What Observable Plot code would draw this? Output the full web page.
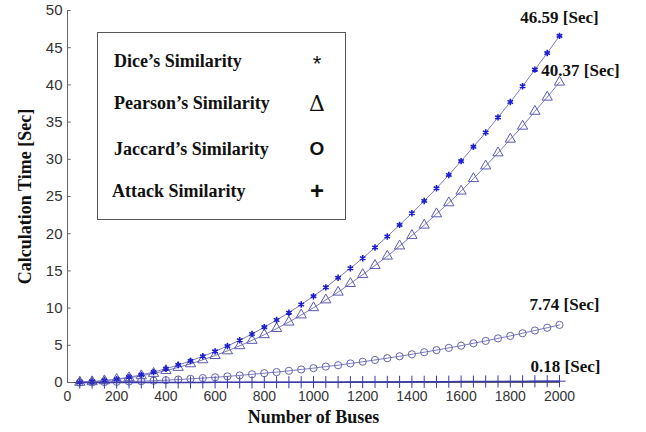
<!DOCTYPE html>
<html>
<head>
<meta charset="utf-8">
<script src="https://cdn.jsdelivr.net/npm/d3@7"></script>
<script src="https://cdn.jsdelivr.net/npm/@observablehq/plot@0.6"></script>
<style>
  html, body { margin: 0; padding: 0; background: #fff; }
  #wrap { position: relative; width: 646px; height: 432px; }
  #legend { position: absolute; left: 97px; top: 32px; width: 247px; height: 186px;
    border: 1.5px solid #555; background: #fff; font-family: "Liberation Serif", "Times New Roman", serif; }
  #legend .row { position: absolute; left: 16px; font-weight: bold; font-size: 18px; color: #111; transform: translateY(-50%); white-space: nowrap; }
  #legend .sym { position: absolute; left: 219px; transform: translate(-50%, -50%); color: #111; font-family: "Liberation Sans", Arial, sans-serif; }
</style>
</head>
<body>
<div id="wrap">
  <div id="chart"></div>
  <div id="legend"></div>
</div>
<script>
const buses = [50,100,150,200,250,300,350,400,450,500,550,600,650,700,750,800,850,900,950,1000,
  1050,1100,1150,1200,1250,1300,1350,1400,1450,1500,1550,1600,1650,1700,1750,1800,1850,1900,1950,2000];
const dice = [0.03,0.12,0.26,0.45,0.72,1.02,1.40,1.85,2.35,2.90,3.52,4.18,4.90,5.68,6.52,7.44,8.40,9.38,10.48,11.60,
  12.78,14.07,15.36,16.70,18.15,19.62,21.18,22.75,24.40,26.10,27.90,29.76,31.68,33.60,35.63,37.70,39.82,42.05,44.28,46.59];
const pearson = [0.02,0.10,0.23,0.41,0.63,0.90,1.22,1.60,2.03,2.51,3.05,3.62,4.25,4.94,5.66,6.42,7.25,8.12,9.08,10.05,
  11.10,12.14,13.30,14.50,15.73,16.98,18.35,19.76,21.15,22.67,24.15,25.72,27.40,29.10,30.86,32.70,34.45,36.45,38.35,40.37];
const jaccard = [0.01,0.03,0.06,0.09,0.13,0.18,0.24,0.31,0.40,0.49,0.59,0.70,0.82,0.95,1.10,1.25,1.40,1.57,1.75,1.93,
  2.14,2.32,2.56,2.79,3.03,3.27,3.53,3.79,4.07,4.35,4.65,4.95,5.27,5.59,5.93,6.26,6.62,6.99,7.36,7.74];
const attack = [0,0,0,0,0.01,0.01,0.01,0.01,0.01,0.01,0.01,0.02,0.02,0.02,0.03,0.03,0.03,0.04,0.04,0.04,
  0.05,0.05,0.06,0.06,0.07,0.08,0.08,0.09,0.09,0.10,0.11,0.12,0.12,0.13,0.14,0.15,0.15,0.16,0.17,0.18];
const xTicks = [0,200,400,600,800,1000,1200,1400,1600,1800,2000];
const yTicks = [0,5,10,15,20,25,30,35,40,45,50];
const legendLabels = ["Dice\u2019s Similarity", "Pearson\u2019s Similarity", "Jaccard\u2019s Similarity", "Attack Similarity"];
const legendSymbols = ["*", "\u0394", "O", "+"];

const rows = (vals) => buses.map((b, i) => ({b, v: vals[i]}));
const D = rows(dice), P = rows(pearson), J = rows(jaccard), A = rows(attack);
const last = (arr) => [arr[arr.length - 1]];
const lbl = d => `${d.v.toFixed(2)} [Sec]`;
const serif = "Liberation Serif, Times New Roman, serif";
const lineC = "#7b7bc2";

const chart = Plot.plot({
  width: 646, height: 432,
  marginLeft: 67, marginRight: 87, marginTop: 10, marginBottom: 50,
  x: {domain: [0, 2000]},
  y: {domain: [0, 50]},
  style: {fontFamily: "Liberation Sans, Arial, sans-serif", fontSize: "14px", color: "#333", background: "white", overflow: "visible"},
  marks: [
    Plot.axisX({ticks: xTicks, tickSize: 0, tickPadding: 9, label: null, fontSize: 14, tickFormat: d => String(d)}),
    Plot.axisY({ticks: yTicks, tickSize: 0, tickPadding: 5, label: null, fontSize: 15, tickFormat: d => String(d)}),
    Plot.ruleX([0], {stroke: "#666"}),
    Plot.ruleY([0], {stroke: "#666"}),
    Plot.ruleY(yTicks, {y: d => d, x1: 0, x2: 15, stroke: "#666"}),
    Plot.line(J, {x: "b", y: "v", stroke: lineC, strokeWidth: 1}),
    Plot.dot(J, {x: "b", y: "v", symbol: "circle", r: 3.6, stroke: "#6565ad", fill: "none", strokeWidth: 1}),
    Plot.line(P, {x: "b", y: "v", stroke: lineC, strokeWidth: 1}),
    Plot.dot(P, {x: "b", y: "v", symbol: "triangle", r: 3.8, stroke: "#5b5bb0", fill: "none", strokeWidth: 1}),
    Plot.line(D, {x: "b", y: "v", stroke: lineC, strokeWidth: 1}),
    Plot.dot(D, {x: "b", y: "v", symbol: "asterisk", r: 3, stroke: "#1c1cd2", strokeWidth: 1.6}),
    Plot.line(A, {x: "b", y: "v", stroke: "#3a3aa8", strokeWidth: 1.5}),
    Plot.dot(A, {x: "b", y: "v", symbol: "plus", r: 4, stroke: "#3a3aa8", strokeWidth: 1}),
    Plot.text(last(D), {x: "b", y: "v", text: lbl, dy: -18, fontFamily: serif, fontWeight: "bold", fontSize: 17, fill: "#111"}),
    Plot.text(last(P), {x: "b", y: "v", text: lbl, dx: 21, dy: -12, fontFamily: serif, fontWeight: "bold", fontSize: 17, fill: "#111"}),
    Plot.text(last(J), {x: "b", y: "v", text: lbl, dx: 5, dy: -20, fontFamily: serif, fontWeight: "bold", fontSize: 17, fill: "#111"}),
    Plot.text(last(A), {x: "b", y: "v", text: lbl, dx: 6, dy: -15, fontFamily: serif, fontWeight: "bold", fontSize: 17, fill: "#111"}),
    Plot.text(["Number of Buses"], {frameAnchor: "bottom", dy: 35, textAnchor: "middle", lineAnchor: "middle", fontFamily: serif, fontWeight: "bold", fontSize: 18, fill: "#111"}),
    Plot.text(["Calculation Time [Sec]"], {frameAnchor: "left", rotate: -90, dx: -42, textAnchor: "middle", lineAnchor: "middle", fontFamily: serif, fontWeight: "bold", fontSize: 18, fill: "#111"})
  ]
});
document.getElementById("chart").appendChild(chart);

const leg = document.getElementById("legend");
const rowY = [28, 70, 116, 158];
const symSize = [22, 22, 19, 24];
legendLabels.forEach((t, i) => {
  const r = document.createElement("div");
  r.className = "row"; r.textContent = t; r.style.top = rowY[i] + "px";
  if (i === 3) r.style.left = "14px";
  leg.appendChild(r);
  const s = document.createElement("div");
  s.className = "sym"; s.textContent = legendSymbols[i]; s.style.top = (rowY[i] + (i === 0 ? 3 : 0)) + "px";
  s.style.fontSize = symSize[i] + "px";
  if (i === 1) s.style.fontFamily = "DejaVu Serif, serif";
  if (i === 2 || i === 3) s.style.fontWeight = "bold";
  leg.appendChild(s);
});
</script>
</body>
</html>
